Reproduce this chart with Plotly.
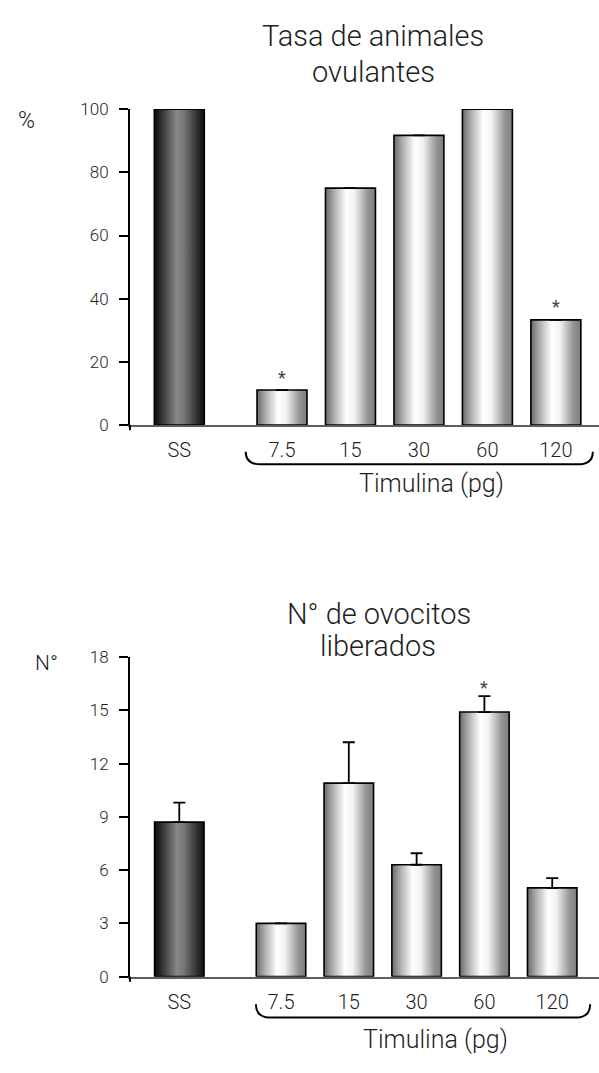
import plotly.graph_objects as go

# Dose groups (saline control + thymulin doses)
categories = ["SS", "7.5", "15", "30", "60", "120"]
positions = [0, 1.5, 2.5, 3.5, 4.5, 5.5]

# Panel 1: ovulating animals (%)
ovul_rate = [100, 11.1, 75, 91.7, 100, 33.3]
ovul_err = [0, 0, 0, 0, 0, 0]
ovul_sig = [False, True, False, False, False, True]

# Panel 2: number of released oocytes (mean + SEM)
oocytes = [8.7, 3.0, 10.9, 6.3, 14.9, 5.0]
oocytes_err = [1.1, 0.0, 2.3, 0.65, 0.9, 0.55]
oocytes_sig = [False, False, False, False, True, False]

top_ticks = [0, 20, 40, 60, 80, 100]
bottom_ticks = [0, 3, 6, 9, 12, 15, 18]

W, H = 599, 1073
BAR_W = 0.73
FONT = "Roboto"
TXT = "#1e1e1e"

dark_scale = [[0, "#0a0a0a"], [0.12, "#2a2a2a"], [0.45, "#878787"],
              [0.58, "#7a7a7a"], [0.88, "#2a2a2a"], [1, "#111111"]]
light_scale = [[0, "#6a6a6a"], [0.18, "#b0b0b0"], [0.42, "#ffffff"],
               [0.58, "#f2f2f2"], [0.85, "#959595"], [1, "#7c7c7c"]]

fig = go.Figure()


def add_panel(values, errors, sig, xa, ya, star_shift):
    for i, (p, v) in enumerate(zip(positions, values)):
        x0, x1 = p - BAR_W / 2, p + BAR_W / 2
        fig.add_trace(go.Scatter(
            x=[x0, x0, x1, x1, x0], y=[0, v, v, 0, 0],
            xaxis=xa, yaxis=ya, mode="lines", fill="toself",
            fillgradient=dict(type="horizontal",
                              colorscale=dark_scale if i == 0 else light_scale),
            line=dict(color="#000000", width=1.6),
            hoverinfo="skip", showlegend=False))
    fig.add_trace(go.Scatter(
        x=positions, y=values, xaxis=xa, yaxis=ya, mode="markers",
        marker=dict(size=1, opacity=0),
        error_y=dict(type="data", array=errors, arrayminus=[0] * len(errors),
                     symmetric=False, color="#000000", thickness=1.8, width=6),
        hoverinfo="skip", showlegend=False))
    for p, v, e, s in zip(positions, values, errors, sig):
        if s:
            fig.add_annotation(x=p, y=v + e, xref=xa, yref=ya, text="*",
                               showarrow=False, yanchor="middle", yshift=star_shift,
                               font=dict(family=FONT, size=18, color="#444444"))


add_panel(ovul_rate, ovul_err, ovul_sig, "x", "y", 13)
add_panel(oocytes, oocytes_err, oocytes_sig, "x2", "y2", 9)

x_common = dict(showgrid=False, zeroline=False, showline=True, linecolor="#5e5e5e",
                linewidth=2, ticks="", tickvals=positions, ticktext=categories,
                tickfont=dict(family=FONT, size=20, color=TXT, weight=300),
                ticklabelstandoff=6)
y_common = dict(showgrid=False, zeroline=False, showline=True, linecolor="#000000",
                linewidth=2, ticks="outside", ticklen=9, tickwidth=1.5,
                tickcolor="#000000", ticklabelstandoff=7,
                tickfont=dict(family=FONT, size=17, color=TXT, weight=300))

fig.update_layout(
    width=W, height=H, margin=dict(l=0, r=0, t=0, b=0),
    paper_bgcolor="white", plot_bgcolor="white",
    xaxis=dict(domain=[130 / W, 1], range=[-0.72, 6.13], anchor="y", **x_common),
    yaxis=dict(domain=[1 - 423 / H, 1 - 101 / H], range=[0, 100], anchor="x",
               tickvals=top_ticks, **y_common),
    xaxis2=dict(domain=[130 / W, 1], range=[-0.727, 6.19], anchor="y2", **x_common),
    yaxis2=dict(domain=[1 - 985 / H, 1 - 659.3 / H], range=[0, 18], anchor="x2",
                tickvals=bottom_ticks, **y_common),
)

# short continuation of each y axis below the baseline
for ya_dom, xa_dom in (("y domain", "x domain"), ("y2 domain", "x2 domain")):
    fig.add_shape(type="line", xref=xa_dom, yref=ya_dom, x0=0, x1=0, y0=0, y1=-0.016,
                  line=dict(color="#000000", width=2))


def brace(xa, ya_dom, left, right, y_top, y_bot):
    d = 0.22
    path = (f"M {left},{y_top} Q {left},{y_bot} {left + d},{y_bot} "
            f"L {right - d},{y_bot} Q {right},{y_bot} {right},{y_top}")
    fig.add_shape(type="path", path=path, xref=xa, yref=ya_dom,
                  line=dict(color="#000000", width=2))


brace("x", "y domain", positions[1] - 0.53, positions[-1] + 0.54, -0.084, -0.124)
brace("x2", "y2 domain", positions[1] - 0.37, positions[-1] + 0.56, -0.086, -0.128)


def text(x_px, y_px, s, size, xanchor="center"):
    fig.add_annotation(x=x_px / W, y=1 - y_px / H, xref="paper", yref="paper",
                       text=s, showarrow=False, xanchor=xanchor, yanchor="middle",
                       font=dict(family=FONT, size=size, color=TXT, weight=300))


text(373.5, 26.6, "Tasa de animales", 29)
text(373.5, 63.3, "ovulantes", 29)
text(379, 615, "N° de ovocitos", 29)
text(378, 648.3, "liberados", 29)
text(26, 112.5, "%", 23)
text(46, 665.5, "N°", 21)
text(431, 482.8, "Timulina (pg)", 25)
text(435, 1049.5, "Timulina (pg)", 25)

fig.write_html("out.html")
